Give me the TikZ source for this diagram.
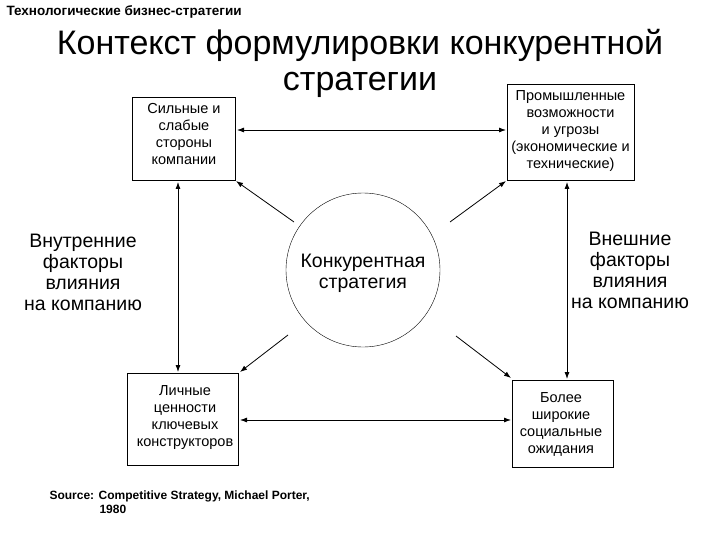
\documentclass[tikz,border=0pt]{standalone}
\usepackage{fontspec}
\setmainfont{Liberation Sans}
\usetikzlibrary{arrows.meta}
\begin{document}
\begin{tikzpicture}[x=1pt,y=-1pt,
  sm/.style={font=\fontsize{14.5}{17}\selectfont,align=center},
  md/.style={font=\fontsize{19.5}{21}\selectfont,align=center},
  arr/.style={thick,-{Latex[length=7pt,width=5pt]}},
  darr/.style={thick,{Latex[length=7pt,width=5pt]}-{Latex[length=7pt,width=5pt]}}]
\useasboundingbox (0,0) rectangle (720,540);
\node[anchor=west,font=\bfseries\fontsize{13.5}{16}\selectfont] (top) at (3,12) {Технологические бизнес-стратегии};
\node[font=\fontsize{34}{36}\selectfont,align=center] (title) at (360,63) {Контекст формулировки конкурентной\\стратегии};
\draw[thick] (132,97) rectangle (235,180);
\node[sm] (tl) at (184,134) {Сильные и\\слабые\\стороны\\компании};
\draw[thick] (507,84) rectangle (634,180);
\node[sm] (tr) at (570.5,131) {Промышленные\\возможности\\и угрозы\\(экономические и\\технические)};
\draw[thick] (127,373) rectangle (238,465);
\node[sm] (bl) at (185,418) {Личные\\ценности\\ключевых\\конструкторов};
\draw[thick] (512,380) rectangle (613,467);
\node[sm] (br) at (561,424) {Более\\широкие\\социальные\\ожидания};
\node[draw,circle,minimum size=154pt] (c) at (363,270) {};
\node[md] (ct) at (363,273) {Конкурентная\\стратегия};
\node[md] (lt) at (83,272) {Внутренние\\факторы\\влияния\\на компанию};
\node[md] (rt) at (630,270) {Внешние\\факторы\\влияния\\на компанию};
\node[anchor=north west,font=\bfseries\fontsize{12}{14}\selectfont,align=left] (src) at (46,487) {Source: Competitive Strategy, Michael Porter,\\\hspace{50pt}1980};
% arrows
\coordinate (a1) at (237,130); \coordinate (b1) at (506,130);
\draw[darr] (a1) -- (b1);
\coordinate (a2) at (178,182); \coordinate (b2) at (178,372);
\draw[darr] (a2) -- (b2);
\coordinate (a3) at (567,182); \coordinate (b3) at (567,379);
\draw[darr] (a3) -- (b3);
\coordinate (a4) at (240,420); \coordinate (b4) at (511,420);
\draw[darr] (a4) -- (b4);
\coordinate (s1) at (294,222); \coordinate (e1) at (236,181);
\draw[arr] (s1) -- (e1);
\coordinate (s2) at (450,222); \coordinate (e2) at (506,181);
\draw[arr] (s2) -- (e2);
\coordinate (s3) at (288,335); \coordinate (e3) at (240,372);
\draw[arr] (s3) -- (e3);
\coordinate (s4) at (456,336); \coordinate (e4) at (511,378);
\draw[arr] (s4) -- (e4);
\end{tikzpicture}
\end{document}
